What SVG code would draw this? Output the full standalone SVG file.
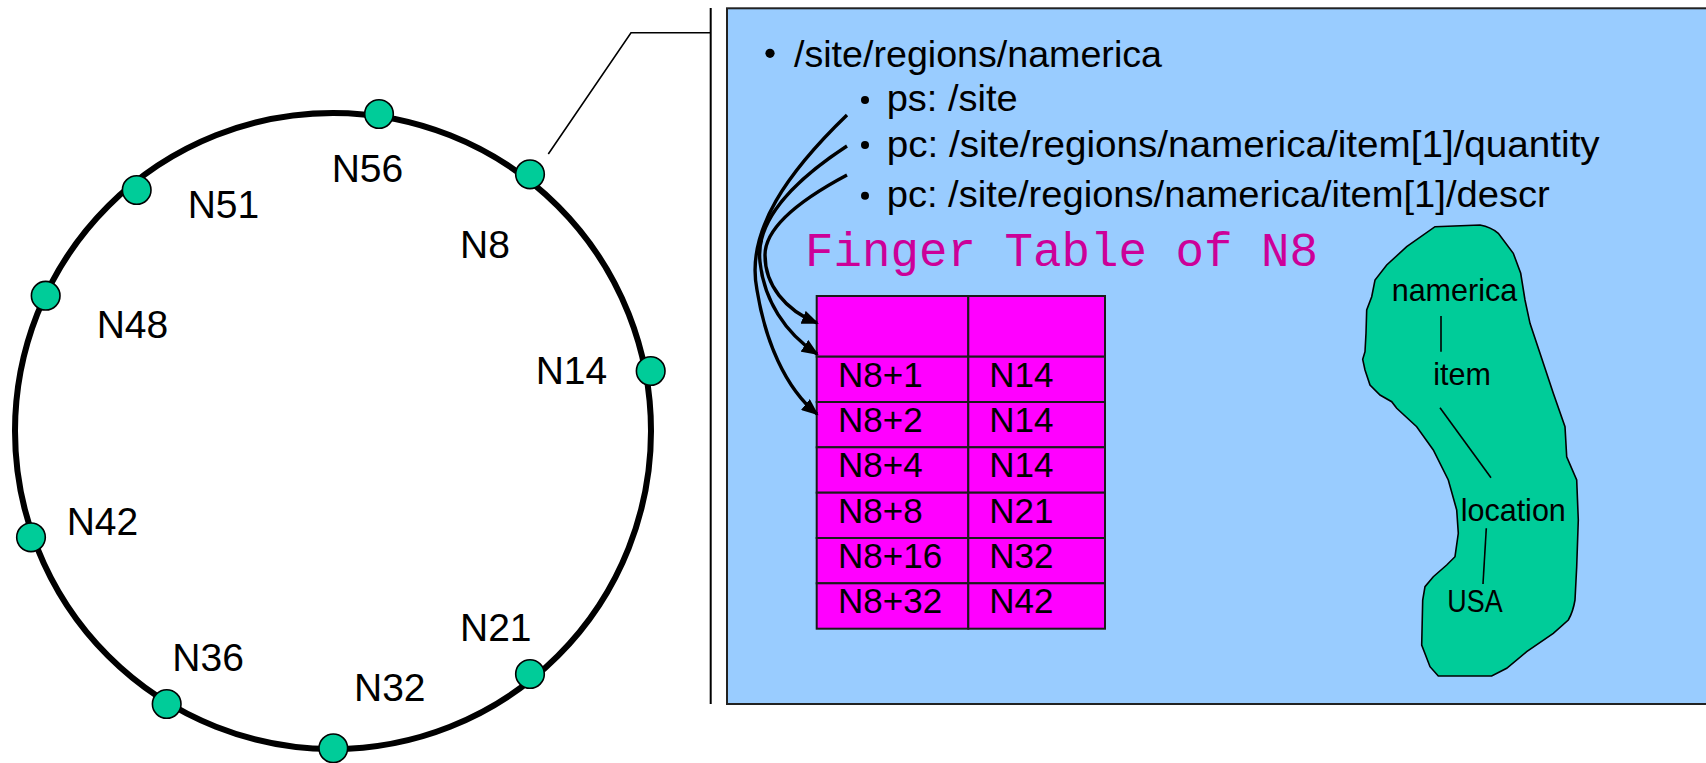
<svg xmlns="http://www.w3.org/2000/svg" width="1706" height="763" viewBox="0 0 1706 763">
  <style>
    .ring { fill: none; stroke: #000; stroke-width: 6; }
    .node { fill: #00CC99; stroke: #000; stroke-width: 1.6; }
    .lbl { font-family: "Liberation Sans", Arial, sans-serif; font-size: 39px; fill: #000; }
    .panel { fill: #99CCFF; stroke: #222; stroke-width: 2; }
    .bul { font-family: "Liberation Sans", Arial, sans-serif; font-size: 37px; fill: #000; }
    .dot { fill: #000; }
    .title { font-family: "Liberation Mono", "Courier New", monospace; font-size: 47.5px; fill: #CC0099; }
    .cell { fill: #FF00FF; stroke: #1a1a1a; stroke-width: 2; }
    .tt { font-family: "Liberation Sans", Arial, sans-serif; font-size: 35px; fill: #000; }
    .blob { fill: #00CC99; stroke: #000; stroke-width: 1.6; }
    .bt { font-family: "Liberation Sans", Arial, sans-serif; font-size: 30.5px; fill: #000; }
    .thin { fill: none; stroke: #000; stroke-width: 1.6; }
    .curve { fill: none; stroke: #000; stroke-width: 3.4; marker-end: url(#head); }
  </style>
  <defs>
    <marker id="head" markerUnits="userSpaceOnUse" markerWidth="18" markerHeight="14" refX="15" refY="7" orient="auto">
      <path d="M0,0 L17,7 L0,14 z" fill="#000"/>
    </marker>
  </defs>

  <rect width="1706" height="763" fill="#fff"/>

  <!-- Chord ring -->
  <g id="ring">
    <circle class="ring" cx="333" cy="431" r="318"/>
  </g>

  <g id="n56"><circle class="node" cx="379" cy="114" r="14.3"/><text class="lbl" x="331.7" y="181.7">N56</text></g>
  <g id="n8"><circle class="node" cx="530" cy="174.3" r="14.3"/><text class="lbl" x="460" y="257.7">N8</text></g>
  <g id="n14"><circle class="node" cx="650.7" cy="371" r="14.3"/><text class="lbl" x="535.7" y="384.3">N14</text></g>
  <g id="n21"><circle class="node" cx="530" cy="674" r="14.3"/><text class="lbl" x="460" y="640.7">N21</text></g>
  <g id="n32"><circle class="node" cx="333.3" cy="748.3" r="14.3"/><text class="lbl" x="354" y="700.7">N32</text></g>
  <g id="n36"><circle class="node" cx="166.7" cy="704" r="14.3"/><text class="lbl" x="172.3" y="670.7">N36</text></g>
  <g id="n42"><circle class="node" cx="31" cy="537.3" r="14.3"/><text class="lbl" x="66.7" y="535">N42</text></g>
  <g id="n48"><circle class="node" cx="45.7" cy="295.7" r="14.3"/><text class="lbl" x="96.7" y="338.3">N48</text></g>
  <g id="n51"><circle class="node" cx="136.7" cy="190" r="14.3"/><text class="lbl" x="187.7" y="217.7">N51</text></g>

  <!-- Callout from N8 to the detail panel -->
  <g id="callout">
    <polyline class="thin" points="548.3,154 631,32.7 710.7,32.7"/>
    <line x1="710.7" y1="8" x2="710.7" y2="704" stroke="#000" stroke-width="2"/>
  </g>

  <!-- Detail panel for N8 -->
  <g id="panel">
    <rect class="panel" x="727" y="8.3" width="1000" height="695.7"/>
  </g>

  <g id="paths">
    <circle class="dot" cx="770" cy="53.3" r="4.6"/>
    <text class="bul" x="794" y="66.7" textLength="368" lengthAdjust="spacingAndGlyphs">/site/regions/namerica</text>
    <circle class="dot" cx="865" cy="100" r="4"/>
    <text class="bul" x="886.7" y="110.7" textLength="131" lengthAdjust="spacingAndGlyphs">ps: /site</text>
    <circle class="dot" cx="865" cy="145" r="4"/>
    <text class="bul" x="886.7" y="156.7" textLength="713" lengthAdjust="spacingAndGlyphs">pc: /site/regions/namerica/item[1]/quantity</text>
    <circle class="dot" cx="865" cy="195.7" r="4"/>
    <text class="bul" x="886.7" y="206.7" textLength="663" lengthAdjust="spacingAndGlyphs">pc: /site/regions/namerica/item[1]/descr</text>
  </g>

  <g id="finger-title">
    <text class="title" x="805" y="266">Finger Table of N8</text>
  </g>

  <!-- Finger table -->
  <g id="finger-table">
    <rect class="cell" x="816.7" y="296" width="151.6" height="60.7"/>
    <rect class="cell" x="968.3" y="296" width="136.7" height="60.7"/>
    <rect class="cell" x="816.7" y="356.7" width="151.6" height="45.3"/>
    <rect class="cell" x="968.3" y="356.7" width="136.7" height="45.3"/>
    <rect class="cell" x="816.7" y="402" width="151.6" height="45.3"/>
    <rect class="cell" x="968.3" y="402" width="136.7" height="45.3"/>
    <rect class="cell" x="816.7" y="447.3" width="151.6" height="45.4"/>
    <rect class="cell" x="968.3" y="447.3" width="136.7" height="45.4"/>
    <rect class="cell" x="816.7" y="492.7" width="151.6" height="45.3"/>
    <rect class="cell" x="968.3" y="492.7" width="136.7" height="45.3"/>
    <rect class="cell" x="816.7" y="538" width="151.6" height="45.3"/>
    <rect class="cell" x="968.3" y="538" width="136.7" height="45.3"/>
    <rect class="cell" x="816.7" y="583.3" width="151.6" height="45.4"/>
    <rect class="cell" x="968.3" y="583.3" width="136.7" height="45.4"/>
    <text class="tt" x="838" y="386.7">N8+1</text><text class="tt" x="989.3" y="386.7">N14</text>
    <text class="tt" x="838" y="431.7">N8+2</text><text class="tt" x="989.3" y="431.7">N14</text>
    <text class="tt" x="838" y="477.3">N8+4</text><text class="tt" x="989.3" y="477.3">N14</text>
    <text class="tt" x="838" y="522.7">N8+8</text><text class="tt" x="989.3" y="522.7">N21</text>
    <text class="tt" x="838" y="567.7">N8+16</text><text class="tt" x="989.3" y="567.7">N32</text>
    <text class="tt" x="838" y="612.7">N8+32</text><text class="tt" x="989.3" y="612.7">N42</text>
  </g>

  <!-- Stored document fragment -->
  <g id="fragment">
    <path class="blob" d="M1435,226.7 L1480,225 Q1491,227 1498.3,233.3 L1513.3,253.3 L1520.7,273.3 L1525,300 L1530,323.3 L1540,353.3 L1553.3,393.3 L1565,426.7 L1566.7,456.7 L1576.7,480 L1578.3,520 L1576.7,566.7 L1575,600 Q1573,612 1568.3,620 L1553.3,633.3 L1526.7,651.7 L1506.7,668.3 L1491.7,676 L1438.3,676 L1430,666.7 L1421.7,645 L1422.7,600 L1425,586.7 L1433.3,576.7 L1446.7,565 L1455,556.7 L1458.3,533.3 L1456.7,510 L1448.3,480 L1433.3,450 L1416.7,426.7 L1396.7,408.3 L1391.7,401.7 L1380,395 L1370,385 L1365,370 L1362.7,359.3 L1365,351.7 L1366,333.3 L1366.7,310 L1371.7,296.7 L1375,280 L1386.7,265 L1406.7,246.7 Z"/>
    <text class="bt" x="1391.7" y="301">namerica</text>
    <line class="thin" x1="1441" y1="316" x2="1441" y2="351.7"/>
    <text class="bt" x="1433.3" y="385">item</text>
    <line class="thin" x1="1440" y1="407.7" x2="1491" y2="477.7"/>
    <text class="bt" x="1460.7" y="520.7">location</text>
    <line class="thin" x1="1486.3" y1="528.3" x2="1483" y2="584"/>
    <text class="bt" x="1447.3" y="612.3" textLength="55.3" lengthAdjust="spacingAndGlyphs">USA</text>
  </g>

  <!-- Links from the path entries to finger table rows -->
  <g id="connectors">
    <path class="curve" d="M847,115 C790,170 745,230 757,290 C765,340 785,388 817,414"/>
    <path class="curve" d="M847,146 C795,180 755,220 760,262 C764,300 785,333 817,354"/>
    <path class="curve" d="M847,175 C800,200 765,228 765,255 C765,285 785,310 817,323"/>
  </g>
</svg>
